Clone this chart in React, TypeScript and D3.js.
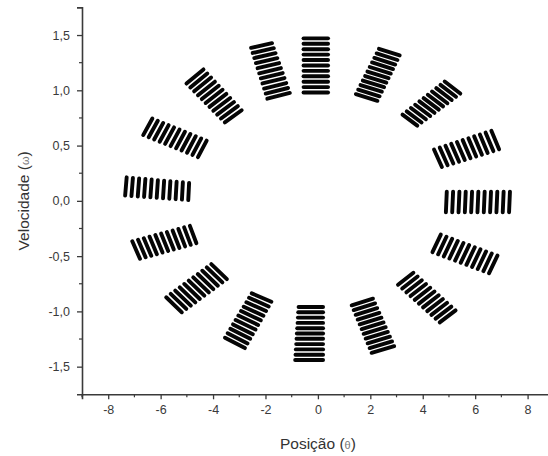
import React, { useEffect, useRef } from 'react';
import * as d3 from 'd3';

const xTicks = [-8, -6, -4, -2, 0, 2, 4, 6, 8];
const xMinorTicks = [-9, -7, -5, -3, -1, 1, 3, 5, 7];
const yTicks = [-1.5, -1.0, -0.5, 0, 0.5, 1.0, 1.5];
const yMinorTicks = [-1.25, -0.75, -0.25, 0.25, 0.75, 1.25];

// innermost bar of each cluster: [x1, y1, x2, y2] (clockwise from the top)
const innerBars = [
  [-0.62, 0.98, 0.46, 0.98],
  [1.38, 0.97, 2.34, 0.9],
  [3.17, 0.79, 3.85, 0.67],
  [4.4, 0.48, 4.76, 0.29],
  [4.92, 0.1, 4.88, -0.12],
  [4.72, -0.29, 4.34, -0.48],
  [3.7, -0.64, 3.0, -0.77],
  [2.17, -0.88, 1.22, -0.95],
  [0.27, -0.96, -0.81, -0.96],
  [-1.71, -0.92, -2.59, -0.83],
  [-3.42, -0.72, -4.12, -0.56],
  [-4.61, -0.4, -4.91, -0.21],
  [-4.95, -0.01, -4.91, 0.18],
  [-4.61, 0.38, -4.21, 0.56],
  [-3.61, 0.7, -2.85, 0.83],
  [-2.0, 0.92, -1.0, 0.98],
];

// outermost bar of each cluster, same order
const outerBars = [
  [-0.62, 1.47, 0.46, 1.47],
  [2.26, 1.38, 3.19, 1.31],
  [4.78, 1.09, 5.49, 0.96],
  [6.59, 0.65, 6.94, 0.45],
  [7.33, 0.1, 7.29, -0.12],
  [6.88, -0.48, 6.5, -0.67],
  [5.31, -0.98, 4.59, -1.11],
  [2.98, -1.31, 1.98, -1.38],
  [0.27, -1.44, -0.94, -1.44],
  [-2.72, -1.34, -3.61, -1.23],
  [-5.14, -1.02, -5.84, -0.86],
  [-6.76, -0.54, -7.11, -0.35],
  [-7.36, 0.03, -7.29, 0.23],
  [-6.7, 0.58, -6.28, 0.76],
  [-5.07, 1.05, -4.31, 1.2],
  [-2.62, 1.38, -1.68, 1.43],
];

const barsPerCluster = 11;

const fmtY = (v: number) => v.toFixed(1).replace('.', ',');

const App: React.FC = () => {
  const ref = useRef<SVGSVGElement>(null);

  useEffect(() => {
    if (!ref.current) return;
    const svg = d3.select(ref.current);
    svg.selectAll('*').remove();

    const x = d3.scaleLinear().domain([-9, 9]).range([82, 553.8]);
    const y = d3.scaleLinear().domain([-1.75, 1.75]).range([394.3, 7.4]);
    const axisColor = '#3a3a3a';
    const font = '"Liberation Sans", Arial, sans-serif';

    // clusters of bars
    const bars: { x1: number; y1: number; x2: number; y2: number }[] = [];
    innerBars.forEach((a, i) => {
      const b = outerBars[i];
      for (let k = 0; k < barsPerCluster; k++) {
        const t = k / (barsPerCluster - 1);
        const px1 = x(a[0] + (b[0] - a[0]) * t);
        const py1 = y(a[1] + (b[1] - a[1]) * t);
        const px2 = x(a[2] + (b[2] - a[2]) * t);
        const py2 = y(a[3] + (b[3] - a[3]) * t);
        // pull ends in so the round caps land on the measured edge
        const len = Math.hypot(px2 - px1, py2 - py1);
        const ux = (px2 - px1) / len;
        const uy = (py2 - py1) / len;
        const inset = 1.9;
        bars.push({
          x1: px1 + ux * inset,
          y1: py1 + uy * inset,
          x2: px2 - ux * inset,
          y2: py2 - uy * inset,
        });
      }
    });

    svg.append('g')
      .selectAll('line')
      .data(bars)
      .enter()
      .append('line')
      .attr('x1', d => d.x1)
      .attr('y1', d => d.y1)
      .attr('x2', d => d.x2)
      .attr('y2', d => d.y2)
      .attr('stroke', '#050505')
      .attr('stroke-width', 3.9)
      .attr('stroke-linecap', 'round');

    // X axis
    const gx = svg.append('g')
      .attr('transform', `translate(0,${y(-1.75)})`)
      .attr('color', axisColor);
    gx.call(
      d3.axisBottom(x).tickValues(xTicks).tickSize(5).tickFormat(d => `${d}`)
    );
    gx.select('.domain').attr('stroke-width', 1.6);
    gx.selectAll('.tick line').attr('stroke-width', 1.3);
    gx.selectAll('.tick text')
      .attr('font-size', 12.5)
      .attr('font-family', font)
      .attr('dy', '0.95em');
    gx.selectAll('.minor')
      .data(xMinorTicks)
      .enter()
      .append('line')
      .attr('class', 'minor')
      .attr('x1', d => x(d))
      .attr('x2', d => x(d))
      .attr('y1', 0)
      .attr('y2', 3)
      .attr('stroke', axisColor)
      .attr('stroke-width', 1.2);

    // Y axis
    const gy = svg.append('g')
      .attr('transform', `translate(${x(-9)},0)`)
      .attr('color', axisColor);
    gy.call(
      d3.axisLeft(y).tickValues(yTicks).tickSize(5).tickFormat(d => fmtY(d as number))
    );
    gy.select('.domain').attr('stroke-width', 1.6);
    gy.selectAll('.tick line').attr('stroke-width', 1.3);
    gy.selectAll('.tick text')
      .attr('font-size', 12.5)
      .attr('font-family', font)
      .attr('x', -12);
    gy.selectAll('.minor')
      .data(yMinorTicks)
      .enter()
      .append('line')
      .attr('class', 'minor')
      .attr('y1', d => y(d))
      .attr('y2', d => y(d))
      .attr('x1', 0)
      .attr('x2', -3)
      .attr('stroke', axisColor)
      .attr('stroke-width', 1.2);

    // axis titles
    const xt = svg.append('text')
      .attr('x', x(0))
      .attr('y', 449)
      .attr('text-anchor', 'middle')
      .attr('font-family', font)
      .attr('font-size', 15.5)
      .attr('fill', '#333');
    xt.append('tspan').text('Posição (');
    xt.append('tspan').attr('font-size', 11).attr('fill', '#777').text('θ');
    xt.append('tspan').text(')');

    const yt = svg.append('text')
      .attr('transform', `translate(29,${y(0)}) rotate(-90)`)
      .attr('text-anchor', 'middle')
      .attr('font-family', font)
      .attr('font-size', 15.5)
      .attr('fill', '#333');
    yt.append('tspan').text('Velocidade (');
    yt.append('tspan').attr('font-size', 11).attr('fill', '#777').text('ω');
    yt.append('tspan').text(')');
  }, []);

  return (
    <svg
      ref={ref}
      width={548}
      height={456}
      style={{ position: 'absolute', left: 0, top: 0, background: '#fff' }}
    />
  );
};

export default App;
